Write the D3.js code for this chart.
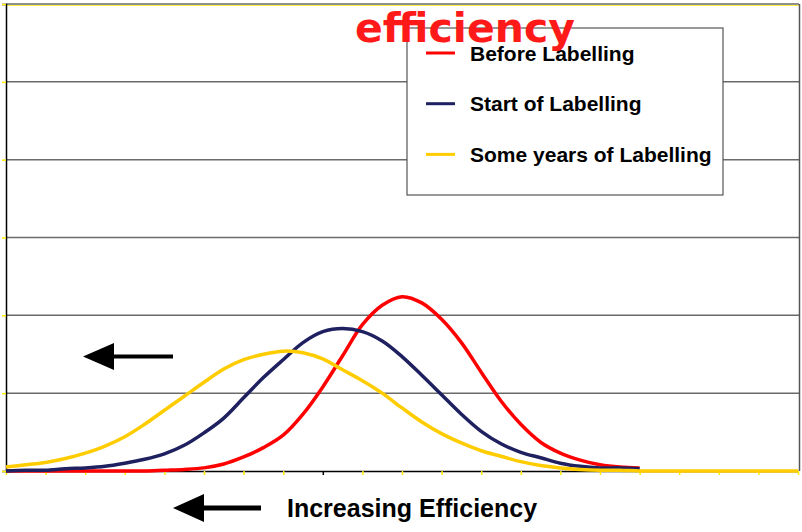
<!DOCTYPE html>
<html>
<head>
<meta charset="utf-8">
<script src="https://cdn.jsdelivr.net/npm/d3@7"></script>
<style>
  body { margin: 0; background: #fff; }
  svg { display: block; }
</style>
</head>
<body>
<div id="my_dataviz"></div>
<script>
let width = 802;
let height = 532;

// x positions are half steps between the category ticks (0..20)
let stepsLong = d3.range(0, 20.5, 0.5);
let stepsShort = d3.range(0, 16.5, 0.5);

let beforeLabelling = [0, 0, 0, 0, 0, 0, 0, 0, 0.01, 0.02, 0.04, 0.09, 0.18, 0.30, 0.46, 0.73, 1.08,
  1.48, 1.88, 2.13, 2.24, 2.16, 1.95, 1.65, 1.27, 0.90, 0.60, 0.37, 0.23, 0.14, 0.08, 0.05, 0.04];
let startOfLabelling = [0, 0.01, 0.01, 0.03, 0.04, 0.06, 0.10, 0.15, 0.22, 0.33, 0.49, 0.68, 0.94,
  1.20, 1.43, 1.65, 1.79, 1.83, 1.79, 1.67, 1.47, 1.23, 0.98, 0.73, 0.51, 0.35, 0.24, 0.17, 0.10,
  0.06, 0.04, 0.04, 0.03];
let someYears = [0.05, 0.08, 0.11, 0.16, 0.23, 0.32, 0.44, 0.60, 0.78, 0.96, 1.14, 1.31, 1.43, 1.50,
  1.54, 1.52, 1.44, 1.30, 1.16, 1.00, 0.81, 0.63, 0.48, 0.36, 0.26, 0.19, 0.12, 0.07, 0.04, 0.02,
  0.01, 0.01, 0, 0, 0, 0, 0, 0, 0, 0, 0];

let seriesNames = ["Before Labelling", "Start of Labelling", "Some years of Labelling"];
let seriesColors = ["#ff0000", "#1e2060", "#ffcc00"];
let yTicks = [0, 1, 2, 3, 4, 5, 6];
let xTicks = d3.range(0, 21);

let series = [
  { name: seriesNames[0], color: seriesColors[0], values: beforeLabelling.map((v, i) => [stepsShort[i], v]) },
  { name: seriesNames[1], color: seriesColors[1], values: startOfLabelling.map((v, i) => [stepsShort[i], v]) },
  { name: seriesNames[2], color: seriesColors[2], values: someYears.map((v, i) => [stepsLong[i], v]) }
];

let plot = { left: 6, right: 799, top: 4, bottom: 471 };

let svg = d3.select('#my_dataviz').append('svg')
  .attr('width', width)
  .attr('height', height)

let x = d3.scaleLinear().domain([0, 20]).range([plot.left, plot.right - 1]);
let y = d3.scaleLinear().domain([0, 6]).range([plot.bottom, plot.top]);

// gridlines
svg.append('g').selectAll('line')
  .data(yTicks.filter(d => d > 0))
  .enter().append('line')
  .attr('x1', plot.left).attr('x2', plot.right)
  .attr('y1', d => y(d)).attr('y2', d => y(d))
  .attr('stroke', '#6a6a6a')
  .attr('stroke-width', 1.5);

svg.append('line')
  .attr('x1', plot.left).attr('x2', plot.right)
  .attr('y1', plot.top + 1.5).attr('y2', plot.top + 1.5)
  .attr('stroke', '#ffee44').attr('stroke-width', 1);

// right frame
svg.append('line')
  .attr('x1', plot.right + 0.5).attr('x2', plot.right + 0.5)
  .attr('y1', plot.top).attr('y2', plot.bottom)
  .attr('stroke', '#555').attr('stroke-width', 1.5);

// axes (yellow ticks)
let yAxis = d3.axisLeft(y).tickValues(yTicks).tickSize(4).tickFormat('');
let gy = svg.append('g').attr('transform', 'translate(' + plot.left + ',0)').call(yAxis);
gy.select('.domain').attr('stroke', '#000').attr('stroke-width', 1.5);
gy.selectAll('.tick line').attr('stroke', '#ffee00').attr('stroke-width', 1.5);

let xAxis = d3.axisBottom(x).tickValues(xTicks).tickSize(4).tickSizeOuter(0).tickFormat('');
let gx = svg.append('g').attr('transform', 'translate(0,' + plot.bottom + ')').call(xAxis);
gx.select('.domain').attr('stroke', '#000').attr('stroke-width', 1.5);
gx.selectAll('.tick line')
  .attr('stroke', d => d === 8 ? '#000' : '#ffee00')
  .attr('stroke-width', 1.5);

// curves
let line = d3.line()
  .x(d => x(d[0]))
  .y(d => y(Math.max(0, d[1])))
  .curve(d3.curveCatmullRom.alpha(0.5));

svg.selectAll('.curve')
  .data(series)
  .enter().append('path').classed('curve', true)
  .attr('d', d => line(d.values))
  .attr('fill', 'none')
  .attr('stroke', d => d.color)
  .attr('stroke-width', 3.5)
  .attr('stroke-linejoin', 'round');

// legend
let legend = svg.append('g').attr('transform', 'translate(407,28)');
legend.append('rect')
  .attr('width', 316).attr('height', 167)
  .attr('fill', '#fff')
  .attr('stroke', '#555').attr('stroke-width', 1.2);

let items = legend.selectAll('.item')
  .data(series)
  .enter().append('g').classed('item', true)
  .attr('transform', (d, i) => 'translate(0,' + (25 + i * 50.7) + ')');
items.append('line')
  .attr('x1', 19).attr('x2', 48)
  .attr('stroke', d => d.color).attr('stroke-width', 3);
items.append('text')
  .attr('x', 63).attr('y', 7.5)
  .attr('font-family', '"Liberation Sans", Arial, sans-serif')
  .attr('font-weight', 'bold')
  .attr('font-size', 21)
  .attr('fill', '#000')
  .text(d => d.name);

// title
svg.append('text')
  .attr('x', 465).attr('y', 42)
  .attr('text-anchor', 'middle')
  .attr('font-family', '"Comic Sans MS", "DejaVu Sans", sans-serif')
  .attr('font-weight', 'bold')
  .attr('font-size', 41)
  .attr('fill', '#ff1a1a')
  .text('efficiency');

// arrows
function arrow(tipX, tipY, headLen, headH, tailX, thick) {
  let g = svg.append('g');
  g.append('line')
    .attr('x1', tipX + headLen - 2).attr('x2', tailX)
    .attr('y1', tipY).attr('y2', tipY)
    .attr('stroke', '#000').attr('stroke-width', thick);
  g.append('path')
    .attr('d', 'M' + tipX + ',' + tipY + 'L' + (tipX + headLen) + ',' + (tipY - headH / 2) +
      'L' + (tipX + headLen) + ',' + (tipY + headH / 2) + 'Z')
    .attr('fill', '#000');
}
arrow(83, 356.5, 31, 27, 173, 4);
arrow(173, 508, 31, 28, 261, 5);

svg.append('text')
  .attr('x', 287).attr('y', 517)
  .attr('font-family', '"Liberation Sans", Arial, sans-serif')
  .attr('font-weight', 'bold')
  .attr('font-size', 25)
  .attr('fill', '#000')
  .text('Increasing Efficiency');
</script>
</body>
</html>
